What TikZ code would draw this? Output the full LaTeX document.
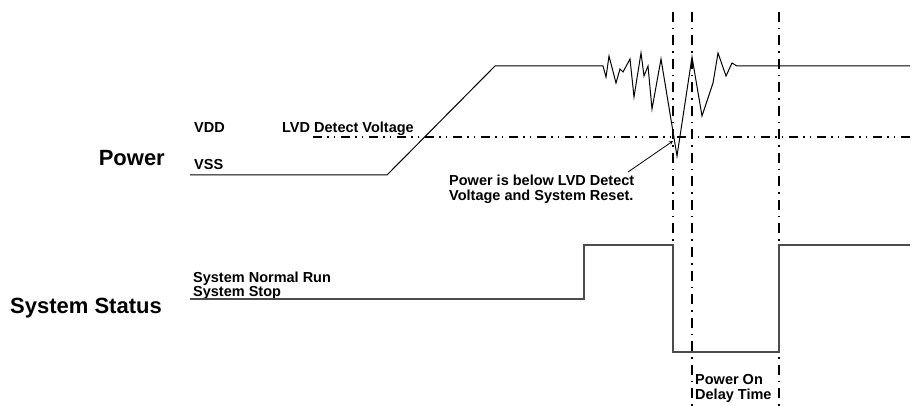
\documentclass[tikz,border=0pt]{standalone}
\usepackage{fontspec}
\setmainfont{Liberation Sans}
\begin{document}
\begin{tikzpicture}[x=1pt,y=-1pt,
  sig/.style={line width=1pt,black},
  stat/.style={line width=1.4pt,black!70},
  ddot/.style={line width=1.8pt,black,dash pattern=on 9pt off 5pt on 1.5pt off 5pt on 1.5pt off 6pt},
  dvert/.style={line width=1.8pt,black,dash pattern=on 10pt off 6pt on 1.5pt off 6pt},
  big/.style={font=\fontsize{22}{24}\selectfont\bfseries,inner sep=0pt},
  small/.style={font=\fontsize{14.5}{16}\selectfont\bfseries,inner sep=0pt}]
\useasboundingbox (0,0) rectangle (913,406);
% labels
\node[big,anchor=base east] (pw) at (165,166) {Power};
\node[big,anchor=base west] (ss) at (10,313) {System Status};
\node[small,anchor=base west] (vdd) at (194,133) {VDD};
\node[small,anchor=base west] (vss) at (194,170) {VSS};
\node[small,anchor=base west] (lvd) at (282,133) {LVD Detect Voltage};
\node[small,anchor=base west] (snr) at (193,283) {System Normal Run};
\node[small,anchor=base west] (sst) at (193,296) {System Stop};
\node[small,anchor=base west] (note1) at (449,186) {Power is below LVD Detect};
\node[small,anchor=base west] (note2) at (449,201) {Voltage and System Reset.};
\node[small,anchor=base west] (pod1) at (695,384) {Power On};
\node[small,anchor=base west] (pod2) at (695,399) {Delay Time};
% coordinates
\coordinate (v1t) at (673,12);
\coordinate (v1b) at (673,245);
\coordinate (v2t) at (692,12);
\coordinate (v2b) at (692,406);
\coordinate (v3t) at (779,12);
\coordinate (v3b) at (779,406);
\coordinate (hl) at (313,137);
\coordinate (hr) at (913,137);
% dash-dot lines
\draw[dvert] (v1t) -- (v1b);
\draw[dvert] (v2t) -- (v2b);
\draw[dvert] (v3t) -- (v3b);
\draw[ddot] (hl) -- (hr);
% power signal
\draw[sig] (190,175) -- (387,175) -- (495,66) -- (603,66) -- (606,77) -- (609,56) -- (616,83) -- (620,69) -- (623,72) -- (630,59) -- (634,97) -- (641,53) -- (644,76) -- (648,66) -- (652,109) -- (661,59) -- (677,156) -- (692,57) -- (702,116) -- (713,83) -- (718,53) -- (726,76) -- (732,63) -- (737,66) -- (910,66);
% status
\draw[stat] (190,299) -- (584,299) -- (584,245) -- (673,245) -- (673,352) -- (779,352) -- (779,245) -- (910,245);
% arrow
\coordinate (at) at (673,141);
\draw[line width=0.8pt,-stealth] (628,172) -- (at);
\end{tikzpicture}
\end{document}
